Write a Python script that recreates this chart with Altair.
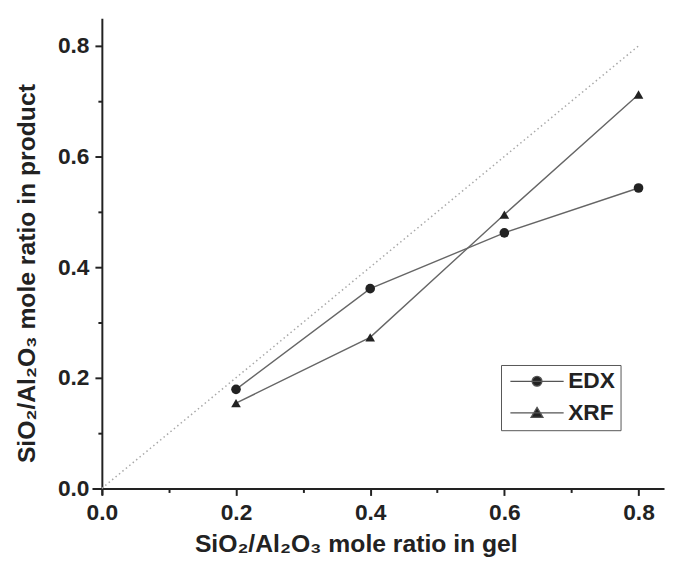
import altair as alt
import pandas as pd

# ---- data ----
gel_ratio = [0.2, 0.4, 0.6, 0.8]
edx_product = [0.179, 0.361, 0.462, 0.543]
xrf_product = [0.154, 0.273, 0.495, 0.712]
series_names = ["EDX", "XRF"]
parity_x = [0.0, 0.8]
parity_y = [0.0, 0.8]
tick_values = [0.0, 0.1, 0.2, 0.3, 0.4, 0.5, 0.6, 0.7, 0.8]

points = pd.DataFrame({
    "gel": gel_ratio + gel_ratio,
    "product": edx_product + xrf_product,
    "series": [series_names[0]] * len(gel_ratio) + [series_names[1]] * len(gel_ratio),
})
parity = pd.DataFrame({"gel": parity_x, "product": parity_y})

FONT = "Liberation Sans"
major_test = "abs(datum.value*10 - 2*round(datum.value*5)) < 0.01"
label_expr = major_test + " ? format(datum.value, '.1f') : ''"

x_scale = alt.Scale(domain=[-0.0147, 0.838], nice=False, zero=False)
y_scale = alt.Scale(domain=[-0.011, 0.85], nice=False, zero=False)

tick_size = {"condition": {"test": major_test, "value": 7}, "value": 4}

x_axis = alt.Axis(
    values=tick_values, labelExpr=label_expr,
    title="SiO₂/Al₂O₃ mole ratio in gel",
    offset=-6, tickSize=tick_size, labelPadding=6,
    titleX=267, titleY=64, titleAlign="center", titleBaseline="alphabetic",
    labelFlush=False,
)
y_axis = alt.Axis(
    values=tick_values, labelExpr=label_expr,
    title="SiO₂/Al₂O₃ mole ratio in product",
    offset=-10, tickSize=tick_size, labelPadding=6,
    titleX=-76, titleY=258, titleAlign="center", titleBaseline="middle",
    labelFlush=False,
)

X = alt.X("gel:Q", scale=x_scale, axis=x_axis)
Y = alt.Y("product:Q", scale=y_scale, axis=y_axis)

# legend symbols: a short line with the marker in its middle (units of 7 px)
circle_path = ("M-1,0L6.7,0M3.56,0A0.71,0.71,0,1,1,2.14,0"
               "A0.71,0.71,0,1,1,3.56,0Z")
tri_path = "M-1,0L6.7,0M2.85,-0.8L3.71,0.64L1.99,0.64Z"

parity_line = alt.Chart(parity).mark_line(
    color="#a8a8a8", strokeDash=[1.5, 3], strokeWidth=1.5
).encode(x=X, y=Y)

series_lines = alt.Chart(points).mark_line(
    color="#666666", strokeWidth=1.4
).encode(x=X, y=Y, detail="series:N")

series_points = alt.Chart(points).mark_point(
    filled=True, color="#222222", opacity=1, size=95
).encode(
    x=X, y=Y,
    shape=alt.Shape("series:N",
                    scale=alt.Scale(domain=series_names, range=["circle", "triangle-up"]),
                    legend=None),
)

legend_layer = alt.Chart(points).transform_filter("false").mark_point(
    filled=True, fill="#222222", stroke="#555555", strokeWidth=1.3,
    opacity=1, size=196
).encode(
    x=X, y=Y,
    shape=alt.Shape(
        "series:N",
        scale=alt.Scale(domain=series_names, range=[circle_path, tri_path]),
        legend=alt.Legend(
            title=None, orient="none", legendX=414, legendY=351,
            strokeColor="#555555", padding=5, rowPadding=8,
            labelFont=FONT, labelFontSize=23, labelFontWeight="bold",
            labelColor="#222222", labelOffset=40,
            symbolSize=196, symbolStrokeWidth=1.3,
        ),
    ),
)

chart = alt.layer(parity_line, series_lines, series_points, legend_layer).resolve_scale(
    shape="independent"
).properties(
    width=579, height=482,
    autosize=alt.AutoSizeParams(type="none"),
    padding={"left": 85, "top": 7, "right": 2, "bottom": 60},
).configure_view(stroke=None).configure_axis(
    grid=False,
    domainColor="#222222", domainWidth=2,
    tickColor="#222222", tickWidth=2,
    labelFont=FONT, labelFontSize=23, labelFontWeight="bold", labelColor="#222222",
    titleFont=FONT, titleFontSize=25, titleFontWeight="bold", titleColor="#222222",
)

chart.save("out.html", embed_options={"renderer": "svg", "actions": False})
